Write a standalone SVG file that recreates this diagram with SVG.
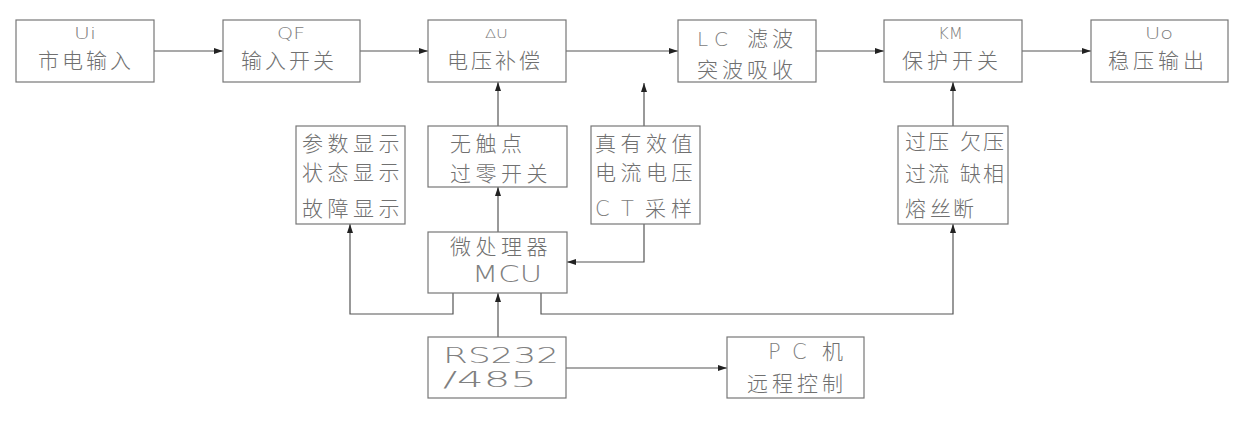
<svg xmlns="http://www.w3.org/2000/svg" width="1241" height="424" viewBox="0 0 1241 424">
<style>
.box{fill:#fff;stroke:#777;stroke-width:1.2}
.cn{font-family:"Noto Sans CJK SC","Noto Sans CJK JP",sans-serif;font-size:21px;fill:#707070;font-weight:300}
.lt{font-family:"DejaVu Sans","Liberation Sans",sans-serif;fill:#808080;font-weight:200}
.wire{fill:none;stroke:#555;stroke-width:1.2}
</style>
<defs>
<marker id="arr" markerUnits="userSpaceOnUse" markerWidth="10" markerHeight="8" refX="9" refY="3" orient="auto">
<path d="M0,0 L9,3 L0,6 z" fill="#222"/>
</marker>
</defs>
<rect width="1241" height="424" fill="#fff"/>

<g id="connectors">
<path class="wire" d="M154,51 H223" marker-end="url(#arr)"/>
<path class="wire" d="M360,51 H428" marker-end="url(#arr)"/>
<path class="wire" d="M566,51 H678" marker-end="url(#arr)"/>
<path class="wire" d="M816,51 H884" marker-end="url(#arr)"/>
<path class="wire" d="M1022,51 H1091" marker-end="url(#arr)"/>
<path class="wire" d="M498,126 V82" marker-end="url(#arr)"/>
<path class="wire" d="M644,126 V83" marker-end="url(#arr)"/>
<path class="wire" d="M953,126 V82" marker-end="url(#arr)"/>
<path class="wire" d="M498,232 V187" marker-end="url(#arr)"/>
<path class="wire" d="M644,224 V262 H567" marker-end="url(#arr)"/>
<path class="wire" d="M453,293 V314 H350 V224" marker-end="url(#arr)"/>
<path class="wire" d="M541,293 V314 H953 V224" marker-end="url(#arr)"/>
<path class="wire" d="M498,337 V293" marker-end="url(#arr)"/>
<path class="wire" d="M566,368 H727" marker-end="url(#arr)"/>
</g>

<g id="ui">
<rect class="box" x="16" y="20" width="138" height="62"/>
<text class="lt" x="74" y="39" font-size="15" textLength="22" lengthAdjust="spacingAndGlyphs">Ui</text>
<text class="cn" x="38" y="68" letter-spacing="3">市电输入</text>
</g>
<g id="qf">
<rect class="box" x="223" y="20" width="137" height="62"/>
<text class="lt" x="277" y="39" font-size="15" textLength="28" lengthAdjust="spacingAndGlyphs">QF</text>
<text class="cn" x="241" y="68" letter-spacing="3">输入开关</text>
</g>
<g id="du">
<rect class="box" x="428" y="20" width="138" height="62"/>
<text class="lt" x="485" y="38" font-size="13" textLength="23" lengthAdjust="spacingAndGlyphs">ΔU</text>
<text class="cn" x="447" y="68" letter-spacing="3">电压补偿</text>
</g>
<g id="lc">
<rect class="box" x="678" y="20" width="138" height="62"/>
<text class="lt" font-size="20" y="46"><tspan x="697">L</tspan><tspan x="714">C</tspan></text>
<text class="cn" y="46"><tspan x="747">滤</tspan><tspan x="772">波</tspan></text>
<text class="cn" x="697" y="77" letter-spacing="4">突波吸收</text>
</g>
<g id="km">
<rect class="box" x="884" y="20" width="138" height="62"/>
<text class="lt" x="938" y="39" font-size="15" textLength="25" lengthAdjust="spacingAndGlyphs">KM</text>
<text class="cn" x="902" y="68" letter-spacing="4">保护开关</text>
</g>
<g id="uo">
<rect class="box" x="1091" y="20" width="137" height="62"/>
<text class="lt" x="1145" y="39" font-size="15" textLength="28" lengthAdjust="spacingAndGlyphs">Uo</text>
<text class="cn" x="1108" y="68" letter-spacing="4">稳压输出</text>
</g>

<g id="display">
<rect class="box" x="296" y="126" width="109" height="98"/>
<text class="cn" x="302" y="151" letter-spacing="4.5">参数显示</text>
<text class="cn" x="302" y="180" letter-spacing="4.5">状态显示</text>
<text class="cn" x="302" y="216" letter-spacing="4.5">故障显示</text>
</g>
<g id="zeroswitch">
<rect class="box" x="428" y="126" width="139" height="61"/>
<text class="cn" x="450" y="151" letter-spacing="4.5">无触点</text>
<text class="cn" x="450" y="181" letter-spacing="4.5">过零开关</text>
</g>
<g id="sampling">
<rect class="box" x="591" y="126" width="109" height="98"/>
<text class="cn" x="595" y="151" letter-spacing="4.5">真有效值</text>
<text class="cn" x="595" y="180" letter-spacing="4.5">电流电压</text>
<text class="lt" font-size="21" y="216"><tspan x="595">C</tspan><tspan x="621">T</tspan></text>
<text class="cn" y="216"><tspan x="645">采</tspan><tspan x="671">样</tspan></text>
</g>
<g id="protect">
<rect class="box" x="898" y="126" width="110" height="98"/>
<text class="cn" y="149" font-size="22"><tspan x="905">过</tspan><tspan x="928">压</tspan><tspan x="960">欠</tspan><tspan x="983">压</tspan></text>
<text class="cn" y="181" font-size="22"><tspan x="905">过</tspan><tspan x="928">流</tspan><tspan x="960">缺</tspan><tspan x="983">相</tspan></text>
<text class="cn" y="216" font-size="22"><tspan x="905">熔</tspan><tspan x="930">丝</tspan><tspan x="953">断</tspan></text>
</g>
<g id="mcu">
<rect class="box" x="428" y="232" width="139" height="61"/>
<text class="cn" x="450" y="254" letter-spacing="4.5">微处理器</text>
<text class="lt" x="472" y="282" font-size="23" textLength="70" lengthAdjust="spacingAndGlyphs">MCU</text>
</g>
<g id="rs232">
<rect class="box" x="428" y="337" width="138" height="61"/>
<text class="lt" x="443" y="363" font-size="22" textLength="116" lengthAdjust="spacingAndGlyphs">RS232</text>
<text class="lt" x="443" y="387" font-size="21" textLength="94" lengthAdjust="spacingAndGlyphs">/485</text>
</g>
<g id="pc">
<rect class="box" x="727" y="337" width="137" height="61"/>
<text class="lt" font-size="21" y="359"><tspan x="768">P</tspan><tspan x="792">C</tspan></text>
<text class="cn" x="822" y="359">机</text>
<text class="cn" x="747" y="391" letter-spacing="4">远程控制</text>
</g>
</svg>
